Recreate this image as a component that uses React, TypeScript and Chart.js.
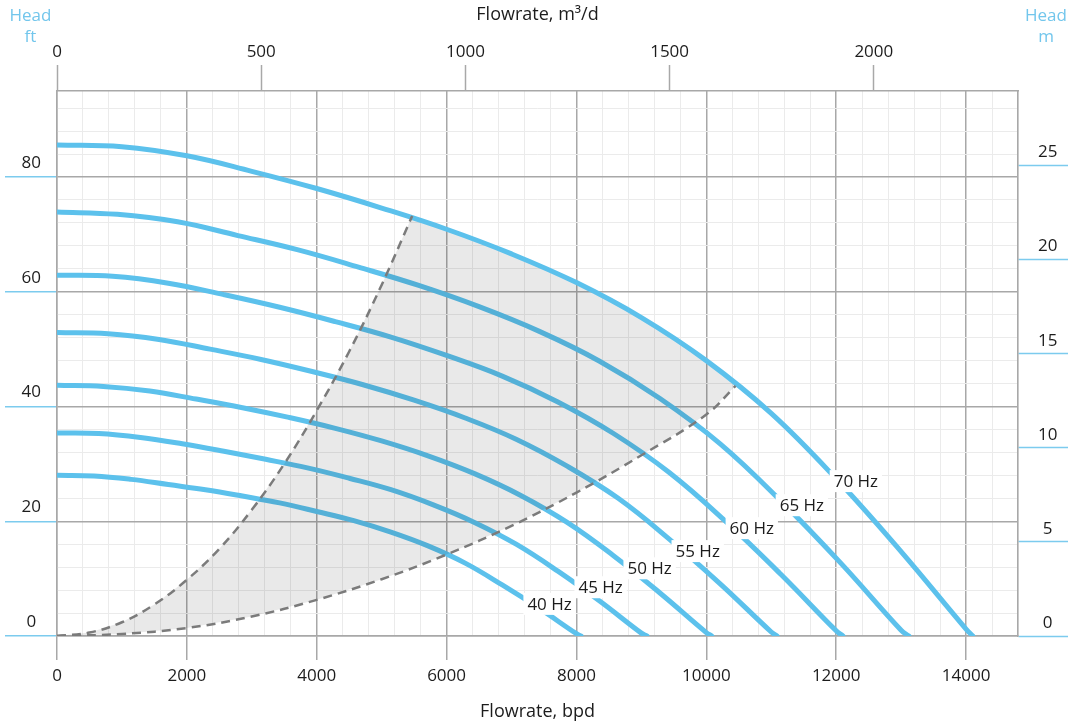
import React, { useEffect, useRef } from 'react';
import { Chart, registerables } from 'chart.js';

Chart.register(...registerables);

// ---------------- data (flow in bpd, head in ft) ----------------
const flow70 = [0, 1000, 2000, 3000, 4000, 5000, 6000, 7000, 8000, 9000, 10000, 11000, 12000, 13000, 14000, 14105];
const head70 = [85.6, 85.3, 83.7, 81.0, 78.0, 74.6, 70.9, 66.6, 61.6, 55.5, 48.0, 38.8, 27.4, 14.7, 1.2, 0];

const flow65 = [0, 929, 1857, 2786, 3714, 4643, 5571, 6500, 7429, 8357, 9286, 10214, 11143, 12071, 13000, 13120];
const head65 = [73.9, 73.5, 72.2, 69.8, 67.3, 64.3, 61.1, 57.4, 53.1, 47.9, 41.4, 33.5, 23.6, 12.7, 1.0, 0];

const flow60 = [0, 857, 1714, 2571, 3429, 4286, 5143, 6000, 6857, 7714, 8571, 9429, 10286, 11143, 12000, 12105];
const head60 = [62.9, 62.7, 61.5, 59.5, 57.3, 54.8, 52.1, 48.9, 45.3, 40.8, 35.3, 28.5, 20.1, 10.8, 0.9, 0];

const flow55 = [0, 786, 1571, 2357, 3143, 3929, 4714, 5500, 6286, 7071, 7857, 8643, 9429, 10214, 11000, 11090];
const head55 = [52.9, 52.7, 51.7, 50.0, 48.2, 46.1, 43.8, 41.1, 38.0, 34.3, 29.6, 24.0, 16.9, 9.1, 0.7, 0];

const flow50 = [0, 714, 1429, 2143, 2857, 3571, 4286, 5000, 5714, 6429, 7143, 7857, 8571, 9286, 10000, 10085];
const head50 = [43.7, 43.5, 42.7, 41.3, 39.8, 38.1, 36.2, 34.0, 31.4, 28.3, 24.5, 19.8, 14.0, 7.5, 0.6, 0];

const flow45 = [0, 643, 1286, 1929, 2571, 3214, 3857, 4500, 5143, 5786, 6429, 7071, 7714, 8357, 9000, 9085];
const head45 = [35.4, 35.3, 34.6, 33.5, 32.2, 30.8, 29.3, 27.5, 25.5, 22.9, 19.8, 16.0, 11.3, 6.1, 0.5, 0];

const flow40 = [0, 571, 1143, 1714, 2286, 2857, 3429, 4000, 4571, 5143, 5714, 6286, 6857, 7429, 8000, 8070];
const head40 = [28.0, 27.9, 27.3, 26.4, 25.5, 24.4, 23.2, 21.7, 20.1, 18.1, 15.7, 12.7, 8.9, 4.8, 0.4, 0];

// operating-range boundaries (dashed)
const minFlowBoundFlow = [0, 500, 1000, 1500, 2000, 2500, 3000, 3500, 4000, 4500, 5000, 5470];
const minFlowBoundHead = [0, 0.6, 2.4, 5.5, 9.8, 15.2, 22.0, 30.0, 39.3, 49.6, 61.2, 73.2];
const maxFlowBoundFlow = [0, 1000, 2000, 3000, 4000, 5000, 6000, 7000, 8000, 9000, 10000, 10450];
const maxFlowBoundHead = [0, 0.35, 1.4, 3.4, 6.3, 9.9, 14.2, 19.2, 25.0, 31.5, 38.6, 43.6];

// curve labels (anchor in data units)
const curveLabels = ['40 Hz', '45 Hz', '50 Hz', '55 Hz', '60 Hz', '65 Hz', '70 Hz'];
const labelFlow = [7586, 8372, 9127, 9867, 10700, 11471, 12303];
const labelHead = [5.6, 8.5, 11.8, 14.8, 18.8, 22.8, 27.0];

// axes
const bpdMax = 14800;
const bpdMinorStep = 400;
const bpdMajorStep = 2000;
const bpdLabelMax = 14000;
const ftMax = 95;
const ftMinorStep = 4;
const ftMajorStep = 20;
const m3dTicks = [0, 500, 1000, 1500, 2000];
const mTicks = [0, 5, 10, 15, 20, 25];
const BPD_PER_M3D = 6.28981;
const FT_PER_M = 3.28084;

// ---------------- styles ----------------
const W = 1068;
const H = 727;
const FONT = "'Open Sans', 'Noto Sans', sans-serif";
const TEXT = '#1c1c1c';
const MAJOR = '#a8a8a8';
const MINOR = '#ebebeb';
const BLUE = '#5cc1ec';
const TICK_BLUE = '#7ccbee';
const HEAD_BLUE = '#72c6ec';
const TRANSPARENT = 'rgba(0,0,0,0)';

const pts = (q: number[], h: number[]) => q.map((x, i) => ({ x, y: h[i] }));

const isMajor = (v: number, step: number) => Math.abs(v % step) < 1e-6;

const overlayPlugin = {
  id: 'overlayText',
  afterDatasetsDraw(chart: any) {
    const { ctx, scales } = chart;
    const xs = scales.x;
    const ys = scales.y;
    ctx.save();
    ctx.font = `17px ${FONT}`;
    ctx.textAlign = 'center';
    ctx.textBaseline = 'middle';
    curveLabels.forEach((t, i) => {
      const px = xs.getPixelForValue(labelFlow[i]);
      const py = ys.getPixelForValue(labelHead[i]);
      const w = ctx.measureText(t).width + 8;
      const h = 22;
      ctx.fillStyle = '#ffffff';
      ctx.fillRect(px - w / 2, py - h / 2, w, h);
      ctx.fillStyle = TEXT;
      ctx.fillText(t, px, py + 1);
    });
    ctx.restore();
  },
  afterDraw(chart: any) {
    const { ctx, scales } = chart;
    const l = scales.y;
    const r = scales.y2;
    ctx.save();
    ctx.font = `17px ${FONT}`;
    ctx.fillStyle = HEAD_BLUE;
    ctx.textAlign = 'center';
    ctx.textBaseline = 'middle';
    const lx = (l.left + l.right) / 2 + 2;
    const rx = (r.left + r.right) / 2 + 3;
    ctx.fillText('Head', lx, 16);
    ctx.fillText('ft', lx, 37);
    ctx.fillText('Head', rx, 16);
    ctx.fillText('m', rx, 37);
    ctx.restore();
  },
};

export default function App() {
  const ref = useRef<HTMLCanvasElement>(null);

  useEffect(() => {
    const canvas = ref.current;
    if (!canvas) return;

    Chart.defaults.font.family = FONT;
    Chart.defaults.font.size = 17;
    Chart.defaults.color = TEXT;

    const curveSets = [
      { q: flow40, h: head40 },
      { q: flow45, h: head45 },
      { q: flow50, h: head50 },
      { q: flow55, h: head55 },
      { q: flow60, h: head60 },
      { q: flow65, h: head65 },
      { q: flow70, h: head70 },
    ];

    const leftEnd = minFlowBoundFlow[minFlowBoundFlow.length - 1];
    const rightEnd = maxFlowBoundFlow[maxFlowBoundFlow.length - 1];
    const shape = [
      ...pts(minFlowBoundFlow, minFlowBoundHead),
      ...pts(flow70, head70).filter((p) => p.x > leftEnd + 1 && p.x < rightEnd - 1),
      ...pts(maxFlowBoundFlow, maxFlowBoundHead).reverse(),
    ];

    const curveDatasets = curveSets.map((c, i) => ({
      label: curveLabels[i],
      data: pts(c.q, c.h),
      showLine: true,
      borderColor: BLUE,
      borderWidth: 5,
      borderCapStyle: 'round',
      borderJoinStyle: 'round',
      pointRadius: 0,
      tension: 0.4,
      fill: false,
      order: i === 6 ? 1 : 3,
    }));

    const dashed = (q: number[], h: number[], label: string) => ({
      label,
      data: pts(q, h),
      showLine: true,
      borderColor: '#7b7b7b',
      borderWidth: 2.5,
      borderDash: [9, 6],
      pointRadius: 0,
      tension: 0.4,
      fill: false,
      order: 0,
    });

    const chart = new Chart(canvas, {
      type: 'scatter',
      data: {
        datasets: [
          ...curveDatasets,
          {
            label: 'range',
            data: shape,
            showLine: true,
            borderColor: TRANSPARENT,
            borderWidth: 0.01,
            backgroundColor: 'rgba(0,0,0,0.085)',
            pointRadius: 0,
            tension: 0,
            fill: 'shape',
            order: 2,
          },
          dashed(minFlowBoundFlow, minFlowBoundHead, 'min'),
          dashed(maxFlowBoundFlow, maxFlowBoundHead, 'max'),
        ] as any,
      },
      options: {
        responsive: false,
        devicePixelRatio: 1,
        animation: false,
        events: [],
        layout: { padding: 0 },
        plugins: {
          legend: { display: false },
          tooltip: { enabled: false },
        },
        scales: {
          x: {
            type: 'linear',
            position: 'bottom',
            min: 0,
            max: bpdMax,
            afterBuildTicks: (s: any) => {
              const t = [];
              for (let v = 0; v <= bpdMax; v += bpdMinorStep) t.push({ value: v });
              s.ticks = t;
            },
            afterFit: (s: any) => {
              s.height = 91;
            },
            ticks: {
              autoSkip: false,
              maxRotation: 0,
              padding: 6,
              color: TEXT,
              callback: (v: any) => (isMajor(v, bpdMajorStep) && v <= bpdLabelMax ? String(v) : ''),
            },
            grid: {
              color: (c: any) => (c.tick && isMajor(c.tick.value, bpdMajorStep) ? MAJOR : MINOR),
              lineWidth: (c: any) => (c.tick && isMajor(c.tick.value, bpdMajorStep) ? 1.5 : 1),
              tickColor: (c: any) =>
                c.tick && isMajor(c.tick.value, bpdMajorStep) && c.tick.value <= bpdLabelMax ? MAJOR : TRANSPARENT,
              tickLength: 24,
              tickWidth: 1.5,
            },
            border: { display: true, color: MAJOR, width: 1.5 },
            title: {
              display: true,
              text: 'Flowrate, bpd',
              color: TEXT,
              font: { size: 18 },
              padding: { top: 0, bottom: 4 },
            },
          },
          x2: {
            type: 'linear',
            position: 'top',
            min: 0,
            max: bpdMax / BPD_PER_M3D,
            afterBuildTicks: (s: any) => {
              s.ticks = m3dTicks.map((v) => ({ value: v }));
            },
            afterFit: (s: any) => {
              s.height = 91;
            },
            ticks: {
              autoSkip: false,
              maxRotation: 0,
              padding: 3,
              color: TEXT,
              callback: (v: any) => String(v),
            },
            grid: {
              drawOnChartArea: false,
              tickColor: MAJOR,
              tickLength: 26,
              tickWidth: 1.5,
            },
            border: { display: true, color: MAJOR, width: 1.5 },
            title: {
              display: true,
              text: 'Flowrate, m³/d',
              color: TEXT,
              font: { size: 18 },
              padding: { top: 4, bottom: 0 },
            },
          },
          y: {
            type: 'linear',
            position: 'left',
            min: 0,
            max: ftMax,
            afterBuildTicks: (s: any) => {
              const t = [];
              for (let v = 0; v < ftMax; v += ftMinorStep) t.push({ value: v });
              s.ticks = t;
            },
            afterFit: (s: any) => {
              s.width = 57;
            },
            ticks: {
              autoSkip: false,
              padding: -36,
              crossAlign: 'center',
              labelOffset: -14,
              color: TEXT,
              callback: (v: any) => (isMajor(v, ftMajorStep) ? String(v) : ''),
            },
            grid: {
              color: (c: any) => (c.tick && isMajor(c.tick.value, ftMajorStep) ? MAJOR : MINOR),
              lineWidth: (c: any) => (c.tick && isMajor(c.tick.value, ftMajorStep) ? 1.5 : 1),
              tickColor: (c: any) => (c.tick && isMajor(c.tick.value, ftMajorStep) ? TICK_BLUE : TRANSPARENT),
              tickLength: 52,
              tickWidth: 1.5,
            },
            border: { display: true, color: MAJOR, width: 1.5 },
          },
          y2: {
            type: 'linear',
            position: 'right',
            min: 0,
            max: ftMax / FT_PER_M,
            afterBuildTicks: (s: any) => {
              s.ticks = mTicks.map((v) => ({ value: v }));
            },
            afterFit: (s: any) => {
              s.width = 50;
            },
            ticks: {
              autoSkip: false,
              padding: -30,
              crossAlign: 'center',
              labelOffset: -13,
              color: TEXT,
              callback: (v: any) => String(v),
            },
            grid: {
              drawOnChartArea: false,
              tickColor: TICK_BLUE,
              tickLength: 50,
              tickWidth: 1.5,
            },
            border: { display: true, color: MAJOR, width: 1.5 },
          },
        },
      } as any,
      plugins: [overlayPlugin],
    });

    return () => chart.destroy();
  }, []);

  return (
    <div style={{ position: 'absolute', left: 0, top: 0, width: W, height: H, background: '#ffffff' }}>
      <canvas ref={ref} width={W} height={H} style={{ display: 'block', width: W, height: H }} />
    </div>
  );
}
